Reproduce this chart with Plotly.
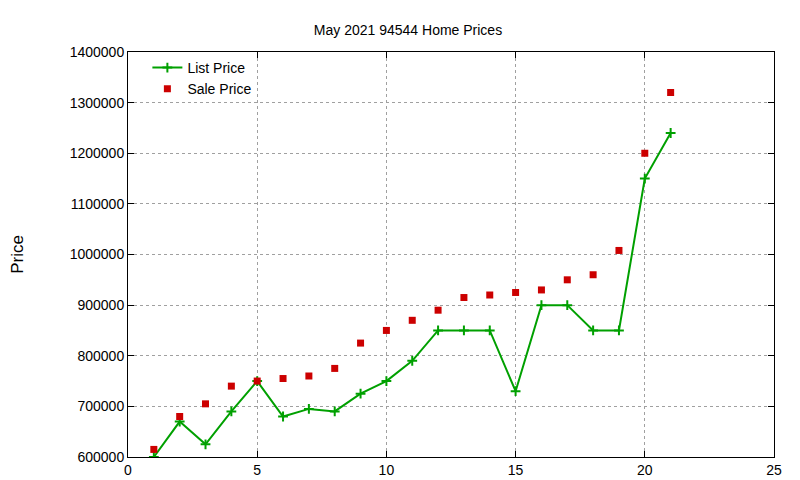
import plotly.graph_objects as go

x = list(range(1, 22))
list_price = [600000, 670000, 625000, 690000, 750000, 680000, 695000, 690000, 725000, 750000,
              790000, 850000, 850000, 850000, 730000, 900000, 900000, 850000, 850000, 1150000, 1240000]
sale_price = [615000, 680000, 705000, 740000, 750000, 755000, 760000, 775000, 825000, 850000,
              870000, 890000, 915000, 920000, 925000, 930000, 950000, 960000, 1008000, 1200000, 1320000]

fig = go.Figure()
fig.add_trace(go.Scatter(x=x, y=list_price, name="List Price", mode="lines+markers",
                         line=dict(color="#00a000", width=2),
                         marker=dict(symbol="cross-thin", size=7, line=dict(color="#00a000", width=2))))
fig.add_trace(go.Scatter(x=x, y=sale_price, name="Sale Price", mode="markers",
                         marker=dict(symbol="square", size=7, color="#cc0000")))

ax = dict(showline=True, mirror="ticks", linecolor="black", linewidth=1, ticks="inside",
          ticklen=6, tickcolor="black", showgrid=True, gridcolor="#a0a0a0", griddash="dot",
          gridwidth=1, zeroline=False, automargin=False, tickfont=dict(size=14))
fig.update_layout(
    width=800, height=480, plot_bgcolor="white", paper_bgcolor="white",
    margin=dict(l=120, r=34, t=44, b=31),
    font=dict(family="Liberation Sans, Arial, sans-serif", size=14, color="black"),
    title=dict(text="May 2021 94544 Home Prices", x=0.5, xanchor="center", y=0.955, yanchor="middle",
               font=dict(size=14), automargin=False),
    xaxis=dict(range=[0, 25], tickvals=[0, 5, 10, 15, 20, 25], **ax),
    yaxis=dict(range=[600000, 1400000], dtick=100000, tickformat="d",
               title=dict(text="Price", standoff=52), **ax),
    legend=dict(x=0.03, y=1.0, xanchor="left", yanchor="top", bgcolor="rgba(0,0,0,0)",
                font=dict(size=14), tracegroupgap=0),
    showlegend=True,
)
fig.write_html("out.html")
